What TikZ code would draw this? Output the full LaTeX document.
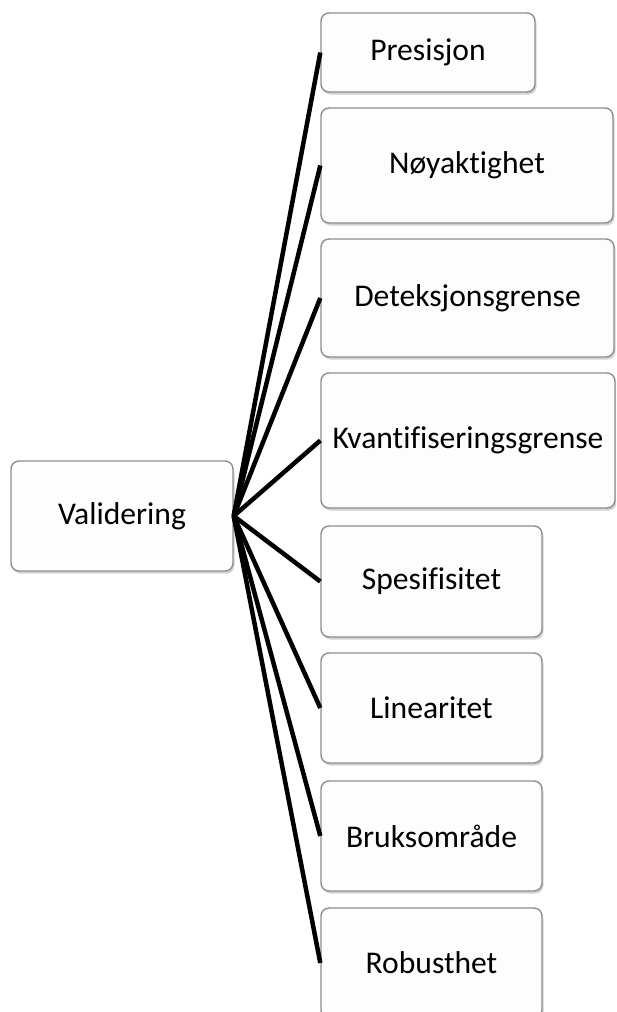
\documentclass[tikz,border=0pt]{standalone}
\usepackage{fontspec}
\setmainfont{Carlito}[Ligatures=NoCommon]
\usetikzlibrary{shadows}
\definecolor{boxLine}{HTML}{8E8E8E}
\definecolor{boxFill}{HTML}{FDFDFD}

\begin{document}
\begin{tikzpicture}[x=1pt, y=-1pt,
    box/.style={rectangle, rounded corners=8pt, draw=boxLine, line width=1.4pt,
                fill=boxFill, inner sep=0pt, minimum width=#1,
                font=\fontsize{31.6}{36}\selectfont,
                drop shadow={shadow xshift=1.5pt, shadow yshift=-2.5pt, opacity=0.35}},
    link/.style={line width=4.5pt, black},
  ]
    \useasboundingbox (0,0) rectangle (616,1012);
    \clip (0,0) rectangle (616,1012);
    \node[box=222pt, minimum height=110pt] (val) at (122,516) {Validering};
    \node[box=214pt, minimum height=79pt] (pre) at (428,52.5) {Presisjon};
    \node[box=292pt, minimum height=115pt] (noy) at (467,165.5) {Nøyaktighet};
    \node[box=293pt, minimum height=118pt] (det) at (467.5,298) {Deteksjonsgrense};
    \node[box=294pt, minimum height=135pt] (kva) at (468,440.5) {Kvantifiseringsgrense};
    \node[box=221pt, minimum height=111pt] (spe) at (431.5,581.5) {Spesifisitet};
    \node[box=221pt, minimum height=110pt] (lin) at (431.5,708) {Linearitet};
    \node[box=221pt, minimum height=110pt] (bru) at (431.5,836) {Bruksområde};
    \node[box=221pt, minimum height=110pt] (rob) at (431.5,963) {Robusthet};
    \foreach \n in {pre,noy,det,kva,spe,lin,bru,rob}
      \draw[link] (val.east) -- (\n.west);
  \end{tikzpicture}
\end{document}
